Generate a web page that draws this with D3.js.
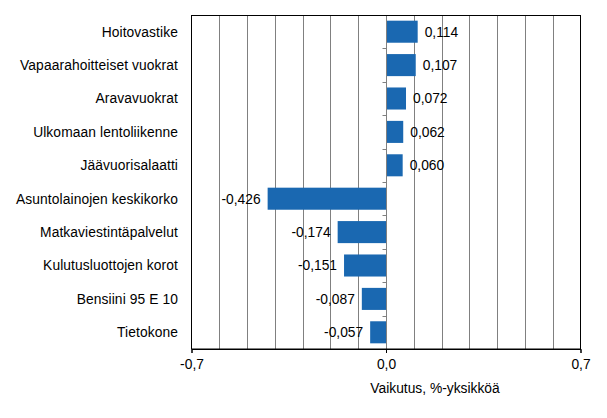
<!DOCTYPE html>
<html><head><meta charset="utf-8">
<script src="https://cdn.jsdelivr.net/npm/d3@7"></script>
<style>body{margin:0;background:#fff;} text{font-family:Arial,"Liberation Sans",sans-serif;}</style>
</head><body><svg id="c" width="607" height="418"></svg>
<script>
const categories = ["Hoitovastike","Vapaarahoitteiset vuokrat","Aravavuokrat","Ulkomaan lentoliikenne","Jäävuorisalaatti","Asuntolainojen keskikorko","Matkaviestintäpalvelut","Kulutusluottojen korot","Bensiini 95 E 10","Tietokone"];
const values = [0.114,0.107,0.072,0.062,0.060,-0.426,-0.174,-0.151,-0.087,-0.057];
const valueLabels = ["0,114","0,107","0,072","0,062","0,060","-0,426","-0,174","-0,151","-0,087","-0,057"];
const tickValues = [-0.7,0,0.7];
const tickLabels = ["-0,7","0,0","0,7"];
const gridValues = [-0.6,-0.5,-0.4,-0.3,-0.2,-0.1,0.1,0.2,0.3,0.4,0.5,0.6];
const axisTitle = "Vaikutus, %-yksikköä";

const svg = d3.select("#c");
const L=191.5, R=580.5, T=15, B=349;
const x = d3.scaleLinear().domain([-0.7,0.7]).range([L,R]);
const y = d3.scaleBand().domain(categories).range([T,B]).paddingInner(0.34).paddingOuter(0.17);
const band = d3.scaleBand().domain(categories).range([T,B]);
const fs = 13.8;

// gridlines
svg.append("g").selectAll("line").data(gridValues).join("line")
  .attr("x1",d=>Math.round(x(d))+0.5).attr("x2",d=>Math.round(x(d))+0.5)
  .attr("y1",T).attr("y2",B).attr("stroke","#808080").attr("stroke-width",1);

// bars
svg.append("g").selectAll("rect").data(values).join("rect")
  .attr("x",(d)=>x(Math.min(0,d))).attr("width",d=>Math.abs(x(d)-x(0)))
  .attr("y",(d,i)=>y(categories[i])).attr("height",y.bandwidth())
  .attr("fill","#1a68b1");

// zero line with category ticks
const zx = Math.round(x(0))+0.5;
svg.append("line").attr("x1",zx).attr("x2",zx).attr("y1",T).attr("y2",B).attr("stroke","#808080");
svg.append("g").selectAll("line").data(categories.slice(1)).join("line")
  .attr("x1",zx-4).attr("x2",zx).attr("y1",d=>Math.round(band(d))+0.5).attr("y2",d=>Math.round(band(d))+0.5)
  .attr("stroke","#808080");

// frame
svg.append("rect").attr("x",L).attr("y",T+0.5).attr("width",R-L).attr("height",B-T-0.5)
  .attr("fill","none").attr("stroke","#000").attr("stroke-width",1);

// bottom axis
const xAxis = d3.axisBottom(x).tickValues(tickValues).tickFormat((d,i)=>tickLabels[i]).tickSize(4).tickPadding(6);
const gx = svg.append("g").attr("transform",`translate(0,${B})`).call(xAxis);
gx.select(".domain").attr("stroke","#000");
gx.selectAll(".tick line").attr("stroke","#000");
gx.selectAll("text").attr("font-size",fs).attr("fill","#000").style("font-family","Arial, 'Liberation Sans', sans-serif");

// category labels
svg.append("g").selectAll("text").data(categories).join("text")
  .attr("x",178).attr("y",d=>band(d)+band.bandwidth()/2).attr("dy","0.35em")
  .attr("text-anchor","end").attr("font-size",fs).attr("letter-spacing","0.1px").attr("fill","#000").text(d=>d);

// value labels
svg.append("g").selectAll("text").data(values).join("text")
  .attr("x",d=>d>=0? x(d)+7 : x(d)-7)
  .attr("y",(d,i)=>band(categories[i])+band.bandwidth()/2).attr("dy","0.35em")
  .attr("text-anchor",d=>d>=0?"start":"end").attr("font-size",fs).attr("fill","#000")
  .text((d,i)=>valueLabels[i]);

// axis title
svg.append("text").attr("x",435).attr("y",393).attr("text-anchor","middle")
  .attr("font-size",fs).attr("fill","#000").text(axisTitle);
</script></body></html>
